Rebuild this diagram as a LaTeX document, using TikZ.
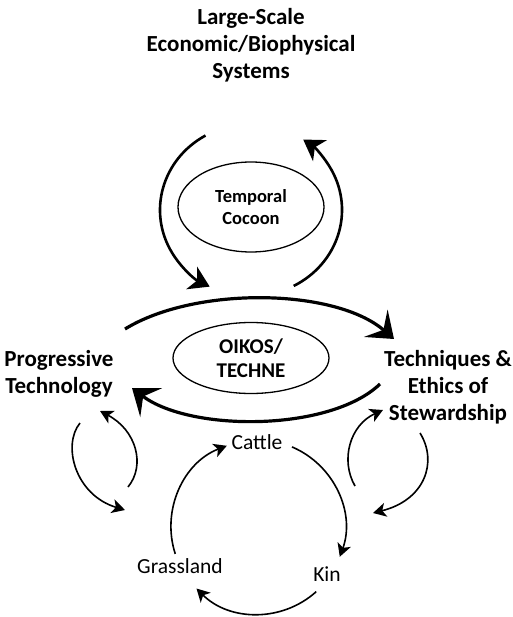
\documentclass[tikz,border=0pt]{standalone}
\usepackage{fontspec}
\setmainfont{Carlito}
\usetikzlibrary{shapes.geometric,arrows.meta}
\begin{document}
\begin{tikzpicture}[x=1pt,y=-1pt,
  lbl/.style={inner sep=0pt,align=center,font=\bfseries\fontsize{23}{27}\selectfont},
  small/.style={inner sep=0pt,font=\fontsize{21.5}{25}\selectfont},
  oval/.style={draw,ellipse,line width=1.3pt,inner sep=0pt,align=center},
  bigarc/.style={line width=3.2pt,-{Stealth[length=24pt,width=36pt,inset=10pt]}},
  looparc/.style={line width=2.6pt,-{Stealth[length=20pt,width=25pt,inset=6pt]}},
  smallarc/.style={line width=1.6pt,-{Stealth[length=13pt,width=14pt,inset=3.5pt]}}]
\useasboundingbox (0,0) rectangle (512,617);
% nodes
\node[lbl] (title) at (251,45) {Large-Scale\\Economic/Biophysical\\Systems};
\node[oval,minimum width=146pt,minimum height=90pt,font=\bfseries\fontsize{18.5}{22}\selectfont] (temporal) at (251,207) {Temporal\\Cocoon};
\node[oval,minimum width=156pt,minimum height=71pt,font=\bfseries\fontsize{21}{24}\selectfont] (oikos) at (251,358) {OIKOS/\\TECHNE};
\node[lbl] (prog) at (59,374) {Progressive\\Technology};
\node[lbl] (tech) at (448,387) {Techniques \&\\Ethics of\\Stewardship};
\node[small] (cattle) at (257,442) {Cattle};
\node[small] (grass) at (180,566) {Grassland};
\node[small] (kin) at (327,574) {Kin};
% centres of loops
\coordinate (tc) at (251,210);
\coordinate (cc) at (258,527);
% top loop around Temporal Cocoon
\draw[looparc] ([shift={(240:91 and 86)}]tc) arc[start angle=240,end angle=117,x radius=91,y radius=86];
\draw[looparc] ([shift={(62:91 and 86)}]tc) arc[start angle=62,end angle=-55,x radius=91,y radius=86];
% middle arcs around OIKOS
\coordinate (m1) at (125,329);
\coordinate (m2) at (394,339);
\coordinate (m3) at (380,384);
\coordinate (m4) at (132,388);
\draw[bigarc] (m1) .. controls (195,286) and (335,288) .. (m2);
\draw[bigarc] (m3) .. controls (330,432) and (190,432) .. (m4);
% left small loop
\coordinate (l1) at (128,487);
\coordinate (l2) at (100,411);
\coordinate (l3) at (80,423);
\coordinate (l4) at (125,510);
\draw[smallarc] (l1) .. controls (146,465) and (136,430) .. (l2);
\draw[smallarc] (l3) .. controls (62,445) and (75,495) .. (l4);
% right small loop
\coordinate (r1) at (355,486);
\coordinate (r2) at (383,410);
\coordinate (r3) at (420,433);
\coordinate (r4) at (373,513);
\draw[smallarc] (r1) .. controls (340,460) and (350,425) .. (r2);
\draw[smallarc] (r3) .. controls (438,462) and (425,500) .. (r4);
% Cattle - Kin - Grassland cycle
\draw[smallarc] ([shift={(162:87)}]cc) arc[start angle=162,end angle=249,radius=87];
\draw[smallarc] ([shift={(293:87)}]cc) arc[start angle=293,end angle=380,radius=87];
\draw[smallarc] ([shift={(48:87)}]cc) arc[start angle=48,end angle=135,radius=87];
\end{tikzpicture}
\end{document}
